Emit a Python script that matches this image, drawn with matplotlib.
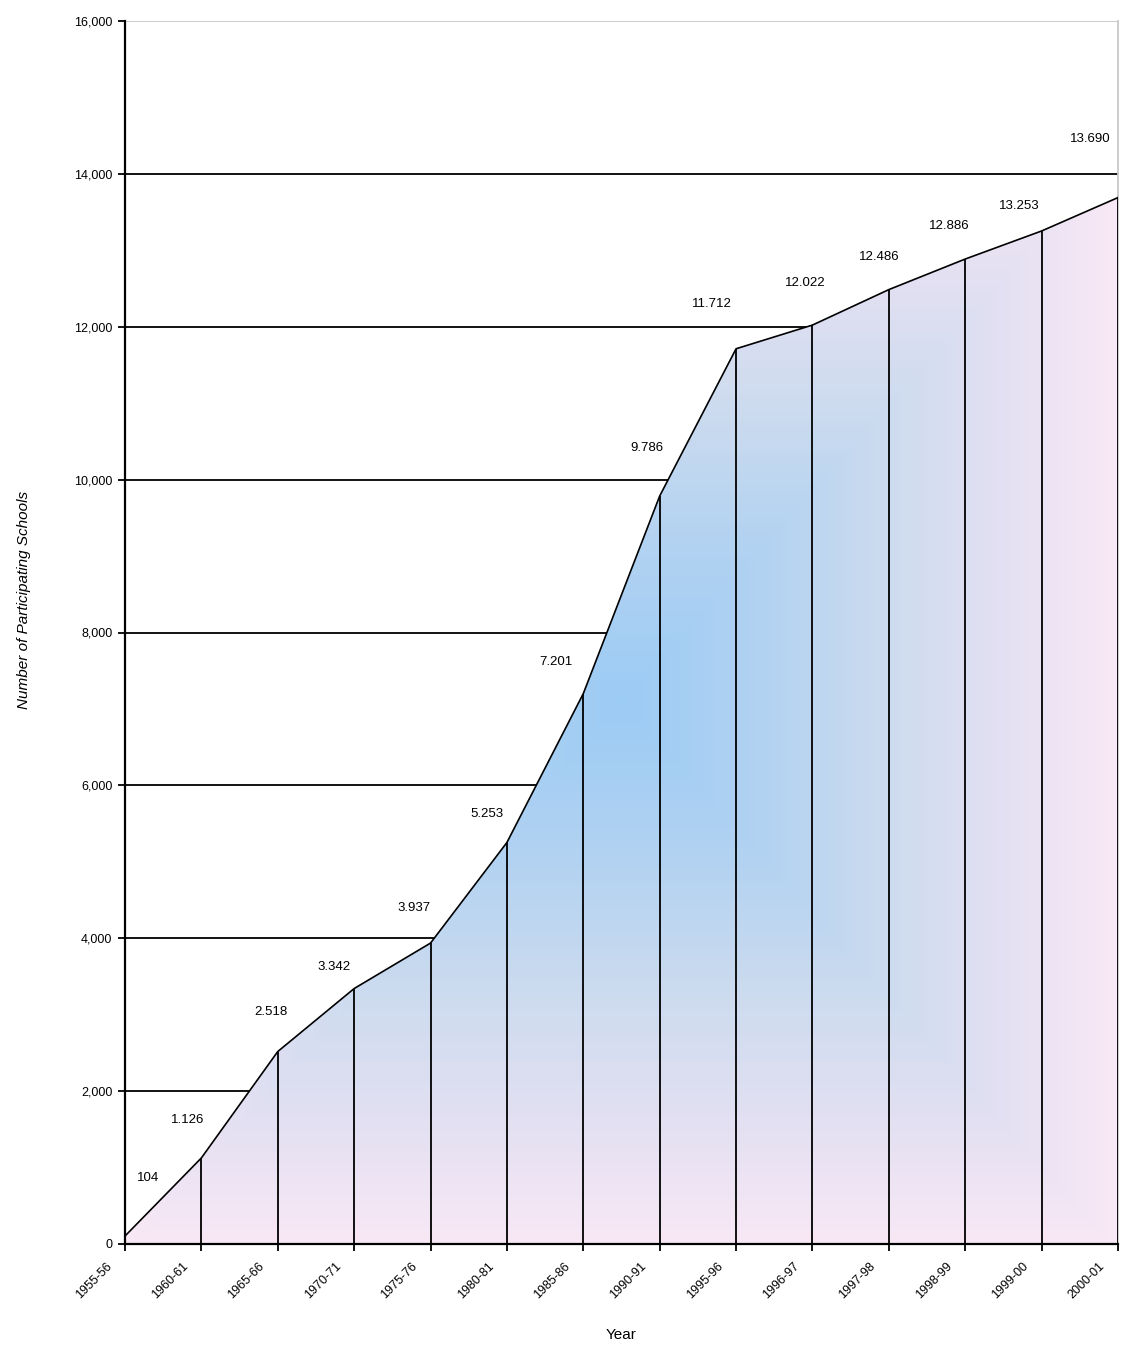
import numpy as np
import matplotlib.pyplot as plt
import matplotlib.transforms as mtransforms
from matplotlib.colors import LinearSegmentedColormap

plt.rcParams['font.family'] = ['Liberation Sans', 'DejaVu Sans']

years = ["1955-56", "1960-61", "1965-66", "1970-71", "1975-76", "1980-81", "1985-86",
         "1990-91", "1995-96", "1996-97", "1997-98", "1998-99", "1999-00", "2000-01"]
schools = [104, 1126, 2518, 3342, 3937, 5253, 7201, 9786, 11712, 12022, 12486, 12886, 13253, 13690]
# label offsets (pixels) relative to each point, as placed in the original
lab_dx = [23, -14, -7, -20, -17, -20, -27, -13, -24, -7, -10, -16, -22, -28]
lab_dy = [58, 38, 40, 22, 35, 28, 32, 48, 45, 42, 33, 33, 25, 59]

fig = plt.figure(figsize=(11.22, 13.53), dpi=100)
ax = fig.add_axes([125/1122, 1-1244/1353, (1118-125)/1122, (1244-21)/1353])

x = np.arange(len(years))
ax.set_xlim(0, len(years) - 1)
ax.set_ylim(0, 16000)

# gridlines
for gy in range(2000, 16000, 2000):
    ax.axhline(gy, color='black', lw=1.3, zorder=1)
ax.axhline(16000, color='#c8c8c8', lw=1.3, zorder=1)

# gradient fill under the line (rectangular "from centre" style)
poly = ax.fill_between(x, schools, 0, color='none', zorder=2)
gx, gy_ = np.meshgrid(np.linspace(0, 13, 400), np.linspace(0, 16000, 400))
t = np.maximum(np.abs(gx - 6.5) / 6.6, np.abs(gy_ - 7100) / 7300)
t = np.clip(t, 0, 1)
cmap = LinearSegmentedColormap.from_list(
    'g', [(0, '#9ccbf5'), (0.3, '#b4d3f1'), (0.55, '#cfdcef'), (0.75, '#e2e0f2'), (1, '#fbe9f6')])
im = ax.imshow(t, extent=[0, 13, 0, 16000], origin='lower', aspect='auto',
               cmap=cmap, vmin=0, vmax=1, zorder=2, interpolation='bilinear')
im.set_clip_path(poly.get_paths()[0], transform=ax.transData)

ax.plot(x, schools, color='black', lw=1.2, zorder=4)
ax.vlines(x[1:], 0, schools[1:], color='black', lw=1.3, zorder=3)

for i, v in enumerate(schools):
    s = "{:,}".format(v).replace(",", ".")
    ax.annotate(s, (x[i], v), xytext=(lab_dx[i], lab_dy[i]), textcoords='offset pixels',
                ha='center', va='center', fontsize=9.5, zorder=5)

ax.spines['top'].set_visible(False)
ax.spines['right'].set_color('#c8c8c8')
ax.spines['right'].set_linewidth(1.3)
ax.spines['left'].set_linewidth(1.6)
ax.spines['bottom'].set_linewidth(1.6)

ax.set_yticks(range(0, 16001, 2000))
ax.set_yticklabels(["{:,}".format(v) for v in range(0, 16001, 2000)], fontsize=9)
ax.set_xticks(x)
ax.set_xticklabels(years, rotation=45, ha='right', va='center', rotation_mode='anchor', fontsize=9)
ax.tick_params(axis='both', length=5, width=1.3, direction='out', pad=4)
shift = mtransforms.ScaledTranslation(-15/100, -8/100, fig.dpi_scale_trans)
for lab in ax.get_xticklabels():
    lab.set_transform(lab.get_transform() + shift)

ax.set_xlabel("Year", fontsize=11)
ax.xaxis.set_label_coords(0.5, -0.069)
ax.set_ylabel("Number of Participating Schools", fontsize=11, style='italic')
ax.yaxis.set_label_coords(-0.095, 0.527)

fig.savefig("out.png", dpi=100)
